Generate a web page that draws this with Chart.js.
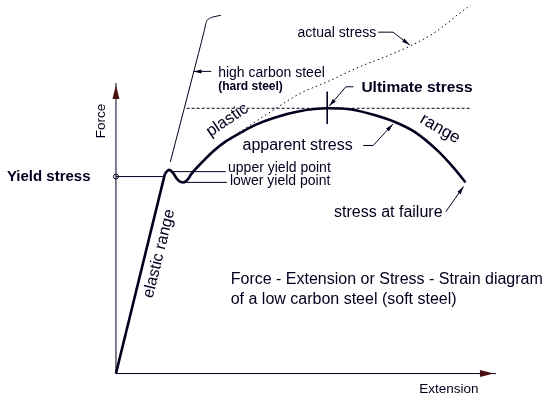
<!DOCTYPE html>
<html>
<head>
<meta charset="utf-8">
<script src="https://cdn.jsdelivr.net/npm/chart.js@4.4.1/dist/chart.umd.min.js"></script>
<style>
  html, body { margin: 0; padding: 0; background: #fff; }
  canvas { display: block; }
</style>
</head>
<body>
<canvas id="steelChart" width="552" height="400"></canvas>
<script>
// units: extension 0..100 along the x axis, force 0..100 along the y axis

// soft steel: elastic range (straight)
const elasticExt = [0, 12.9];
const elasticForce = [0, 68.8];

// soft steel: yield bump + plastic range (apparent stress)
const plasticExt = [12.9, 13.95, 15.0, 16.0, 17.05, 17.85, 18.9, 19.9, 22.5, 25.6, 28.9, 32.8, 36.7, 41.3, 48.3, 55.6, 62.0, 68.2, 73.4, 78.6, 84.5, 88.9, 92.0];
const plasticForce = [68.8, 70.1, 69.1, 67.1, 65.9, 65.8, 66.8, 68.8, 72.5, 76.5, 79.9, 82.9, 85.6, 87.9, 90.3, 91.3, 90.9, 88.9, 86.6, 83.2, 76.9, 70.8, 65.8];

// high carbon steel
const hardExt = [14.3, 21.7, 23.2, 23.8, 24.6, 25.8, 27.6];
const hardForce = [72.8, 110.1, 117.8, 121.1, 122.2, 122.8, 123.3];

// actual stress (dotted)
const actualExt = [32.3, 40.6, 48.3, 56.1, 63.8, 71.6, 77.5, 83.2, 87.1, 90.2, 93.3, 94.8];
const actualForce = [82.9, 90.0, 96.3, 100.7, 105.4, 109.4, 112.8, 116.8, 120.5, 123.8, 126.9, 128.9];

// reference levels
const yieldStress = 67.8;
const ultimateStress = 91.3;
const ultimateExt = 55.6;

// leader lines (last point = arrow tip)
const leaderActualExt = [69.0, 72.9, 77.3];
const leaderActualForce = [117.5, 117.5, 113.1];
const leaderUltimateExt = [62.5, 60.5, 56.1];
const leaderUltimateForce = [98.7, 98.7, 92.0];
const leaderApparentExt = [65.1, 67.7, 72.9];
const leaderApparentForce = [78.5, 78.5, 85.9];
const leaderFailureExt = [86.8, 91.5];
const leaderFailureForce = [55.7, 64.4];
const leaderHardExt = [25.1, 20.4];
const leaderHardForce = [104.0, 104.0];

const ink = '#00001e';
const axisHead = '#4a1010';

const pts = (xs, ys) => xs.map((x, i) => ({ x: x, y: ys[i] }));

function line(data, extra) {
  return Object.assign({
    data: data,
    showLine: true,
    borderColor: ink,
    borderWidth: 1,
    pointRadius: 0,
    tension: 0,
    fill: false,
  }, extra || {});
}

// text labels, placed in data units
const labels = [
  { t: 'Yield stress', x: -28.7, y: yieldStress, font: 'bold 15px "Liberation Sans", Arial, sans-serif' },
  { t: 'Force', x: -3.9, y: 86.9, rot: -90, align: 'center', font: '13.5px "Liberation Sans", Arial, sans-serif' },
  { t: 'Extension', x: 79.8, y: -5.4, font: '13.5px "Liberation Sans", Arial, sans-serif' },
  { t: 'high carbon steel', x: 26.9, y: 103.4, font: '14px "Liberation Sans", Arial, sans-serif' },
  { t: '(hard steel)', x: 26.9, y: 98.7, font: 'bold 12px "Liberation Sans", Arial, sans-serif' },
  { t: 'actual stress', x: 47.8, y: 117.1, font: '14px "Liberation Sans", Arial, sans-serif' },
  { t: 'Ultimate stress', x: 64.6, y: 98.3, font: 'bold 15.5px "Liberation Sans", Arial, sans-serif' },
  { t: 'apparent stress', x: 33.3, y: 78.5, font: '16px "Liberation Sans", Arial, sans-serif' },
  { t: 'upper yield point', x: 29.5, y: 70.8, font: '14px "Liberation Sans", Arial, sans-serif' },
  { t: 'lower yield point', x: 30.0, y: 66.1, font: '14px "Liberation Sans", Arial, sans-serif' },
  { t: 'stress at failure', x: 57.4, y: 55.4, font: '16px "Liberation Sans", Arial, sans-serif' },
  { t: 'Force - Extension or Stress - Strain diagram', x: 30.2, y: 32.2, font: '16px "Liberation Sans", Arial, sans-serif' },
  { t: 'of a low carbon steel (soft steel)', x: 30.2, y: 25.5, font: '16px "Liberation Sans", Arial, sans-serif' },
  { t: 'plastic', x: 29.3, y: 87.2, rot: -34, align: 'center', font: '16.5px "Liberation Sans", Arial, sans-serif' },
  { t: 'range', x: 85.3, y: 84.2, rot: 30, align: 'center', font: '17px "Liberation Sans", Arial, sans-serif' },
  { t: 'elastic range', x: 11.4, y: 41.3, rot: -76, align: 'center', font: '16px "Liberation Sans", Arial, sans-serif' },
];

// arrow heads at line ends + text
const drawingPlugin = {
  id: 'drawing',
  afterDatasetsDraw(chart) {
    const ctx = chart.ctx;
    const sx = chart.scales.x, sy = chart.scales.y;

    chart.data.datasets.forEach((ds, i) => {
      if (!ds.arrow) return;
      const el = chart.getDatasetMeta(i).data;
      const a = el[el.length - 2], b = el[el.length - 1];
      const ang = Math.atan2(b.y - a.y, b.x - a.x);
      const big = ds.arrow === 'axis';
      const len = big ? 16 : 8, half = big ? 3.5 : 2;
      ctx.save();
      ctx.translate(b.x, b.y);
      ctx.rotate(ang);
      ctx.fillStyle = big ? axisHead : ink;
      ctx.beginPath();
      ctx.moveTo(big ? -2 : 0, 0);
      ctx.lineTo(-len, -half);
      ctx.lineTo(-len, half);
      ctx.closePath();
      ctx.fill();
      ctx.restore();
    });

    labels.forEach((l) => {
      ctx.save();
      ctx.font = l.font;
      ctx.fillStyle = ink;
      ctx.textBaseline = 'middle';
      ctx.textAlign = l.align || 'left';
      ctx.translate(sx.getPixelForValue(l.x), sy.getPixelForValue(l.y));
      if (l.rot) ctx.rotate(l.rot * Math.PI / 180);
      ctx.fillText(l.t, 0, 0);
      ctx.restore();
    });
  },
};

new Chart(document.getElementById('steelChart'), {
  type: 'scatter',
  data: {
    datasets: [
      // axes
      line(pts([0, 100], [0, 0]), { arrow: 'axis' }),
      line(pts([0, 0], [0, 100]), { arrow: 'axis' }),
      // yield level with marker on the force axis
      line(pts([0, 12.9], [yieldStress, yieldStress])),
      line(pts([0], [yieldStress]), {
        showLine: false, pointRadius: 2.5, pointBackgroundColor: '#fff',
        pointBorderColor: ink, pointBorderWidth: 1,
      }),
      // ultimate level + tick
      line(pts([18.6, 93.5], [ultimateStress, ultimateStress]), { borderDash: [3, 2] }),
      line(pts([ultimateExt, ultimateExt], [97.0, 85.9])),
      // yield point leaders
      line(pts([15.0, 28.9], [69.5, 69.5])),
      line(pts([18.1, 29.2], [65.8, 65.8])),
      // arrow leaders
      line(pts(leaderActualExt, leaderActualForce), { arrow: true }),
      line(pts(leaderUltimateExt, leaderUltimateForce), { arrow: true }),
      line(pts(leaderApparentExt, leaderApparentForce), { arrow: true }),
      line(pts(leaderFailureExt, leaderFailureForce), { arrow: true }),
      line(pts(leaderHardExt, leaderHardForce), { arrow: true }),
      // curves
      line(pts(hardExt, hardForce), { cubicInterpolationMode: 'monotone' }),
      line(pts(actualExt, actualForce), { borderDash: [1.5, 3], cubicInterpolationMode: 'monotone' }),
      line(pts(elasticExt, elasticForce), { borderWidth: 2.6 }),
      line(pts(plasticExt, plasticForce), { borderWidth: 2.6, cubicInterpolationMode: 'monotone', borderJoinStyle: 'round' }),
    ],
  },
  options: {
    responsive: false,
    animation: false,
    devicePixelRatio: 1,
    layout: { padding: 0 },
    plugins: { legend: { display: false }, tooltip: { enabled: false } },
    scales: {
      x: { type: 'linear', min: -29.2, max: 113.44, display: false },
      y: { type: 'linear', min: -7.38, max: 126.85, display: false },
    },
  },
  plugins: [drawingPlugin],
});
</script>
</body>
</html>
